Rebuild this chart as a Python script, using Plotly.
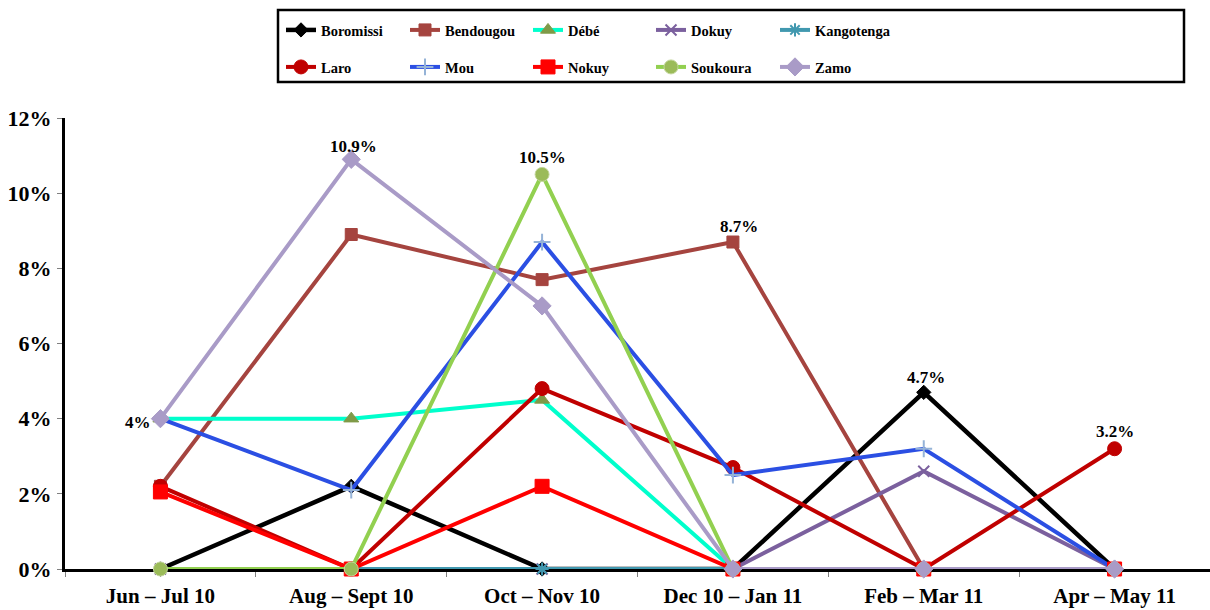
import plotly.graph_objects as go

periods = ["Jun – Jul 10", "Aug – Sept 10", "Oct – Nov 10", "Dec 10 – Jan 11", "Feb – Mar 11", "Apr – May 11"]

boromissi = [0, 2.2, 0, 0, 4.7, 0]
bendougou = [2.2, 8.9, 7.7, 8.7, 0, 0]
debe = [4, 4, 4.5, 0, 0, 0]
dokuy = [0, 0, 0, 0, 2.6, 0]
kangotenga = [0, 0, 0, 0, 0, 0]
laro = [2.2, 0, 4.8, 2.7, 0, 3.2]
mou = [4, 2.1, 8.7, 2.5, 3.2, 0]
nokuy = [2.05, 0, 2.2, 0, 0, 0]
soukoura = [0, 0, 10.5, 0, 0, 0]
zamo = [4, 10.9, 7, 0, 0, 0]

FONT = "Times New Roman, Liberation Serif, serif"

# name, values, line colour, line width, marker symbol, marker size, marker fill, marker edge
series = [
    ("Boromissi", boromissi, "#000000", 4.5, "diamond", 11, "#000000", "#000000"),
    ("Bendougou", bendougou, "#A5443F", 4, "square", 12, "#A5443F", "#A5443F"),
    ("Débé", debe, "#00FFCC", 4, "triangle-up", 13, "#7F9A48", "#7F9A48"),
    ("Dokuy", dokuy, "#7B609E", 4, "x-thin-open", 11, "#7B609E", "#7B609E"),
    ("Kangotenga", kangotenga, "#4198AF", 4, "asterisk-open", 11, "#4198AF", "#4198AF"),
    ("Laro", laro, "#C00000", 4, "circle", 14, "#C00000", "#C00000"),
    ("Mou", mou, "#2B4FE3", 4, "cross-thin-open", 12, "#95B3D7", "#95B3D7"),
    ("Nokuy", nokuy, "#FF0000", 4, "square", 14, "#FF0000", "#FF0000"),
    ("Soukoura", soukoura, "#92D050", 4, "circle", 14, "#9BBB59", "#C3D69B"),
    ("Zamo", zamo, "#A99BC7", 4, "diamond", 14, "#A99BC7", "#A99BC7"),
]

PLOT_L, PLOT_W, PLOT_B, PLOT_H = 65, 1145, 569, 451
LEG_COLS = [289, 413, 536, 659, 783]
LEG_ROWS = [30, 67]

fig = go.Figure()
legend_layout = {}
for k, (name, vals, lc, lw, sym, ms, mfill, medge) in enumerate(series):
    leg_id = "legend" if k == 0 else f"legend{k + 1}"
    fig.add_trace(go.Scatter(
        x=periods, y=vals, name=name, mode="lines+markers",
        line=dict(color=lc, width=lw),
        marker=dict(symbol=sym, size=ms, color=mfill,
                    line=dict(color=medge, width=2 if "open" in sym else 1)),
        cliponaxis=False,
        legend=leg_id,
    ))
    col, row = k % 5, k // 5
    legend_layout[leg_id] = dict(
        x=(LEG_COLS[col] - 8 - PLOT_L) / PLOT_W,
        y=(PLOT_B - LEG_ROWS[row]) / PLOT_H,
        xanchor="left", yanchor="middle", orientation="h", itemwidth=30,
        font=dict(family=FONT, size=14.5, color="#000000", weight="bold"),
        bgcolor="rgba(0,0,0,0)", borderwidth=0,
    )

# value labels on selected points
labels = [
    (zamo, 0, -22, -4),
    (zamo, 1, 2, 13),
    (soukoura, 2, 0, 17),
    (bendougou, 3, 6, 16),
    (boromissi, 4, 2, 15),
    (laro, 5, 0, 17),
]
for vals, i, dx, dy in labels:
    fig.add_annotation(
        x=periods[i], y=vals[i], text=f"{vals[i]:g}%", showarrow=False,
        xshift=dx, yshift=dy,
        font=dict(family=FONT, size=17, color="#000000", weight="bold"),
    )

# frame around the legend
fig.add_shape(type="rect", xref="paper", yref="paper",
              x0=(278 - PLOT_L) / PLOT_W, x1=(1184 - PLOT_L) / PLOT_W,
              y0=(PLOT_B - 82) / PLOT_H, y1=(PLOT_B - 10) / PLOT_H,
              line=dict(color="#000000", width=2.5), fillcolor="rgba(0,0,0,0)")

fig.update_layout(
    width=1210, height=610,
    margin=dict(l=65, r=0, t=118, b=41),
    paper_bgcolor="#FFFFFF", plot_bgcolor="#FFFFFF",
    showlegend=True,
    **legend_layout,
    xaxis=dict(
        type="category", range=[-0.5, 5.5],
        showline=True, linecolor="#000000", linewidth=3,
        ticks="outside", tickcolor="#808080", ticklen=5, tickwidth=1,
        tickson="boundaries", showgrid=False, zeroline=False,
        ticklabelstandoff=6, layer="below traces",
        tickfont=dict(family=FONT, size=21, color="#000000", weight="bold"),
    ),
    yaxis=dict(
        range=[0, 12], tickvals=[0, 2, 4, 6, 8, 10, 12],
        ticktext=["0%", "2%", "4%", "6%", "8%", "10%", "12%"],
        showline=True, linecolor="#000000", linewidth=3,
        ticks="outside", tickcolor="#808080", ticklen=5, tickwidth=1,
        showgrid=False, zeroline=False, ticklabelstandoff=1,
        layer="below traces",
        tickfont=dict(family=FONT, size=22, color="#000000", weight="bold"),
    ),
)

fig.write_html("out.html")
